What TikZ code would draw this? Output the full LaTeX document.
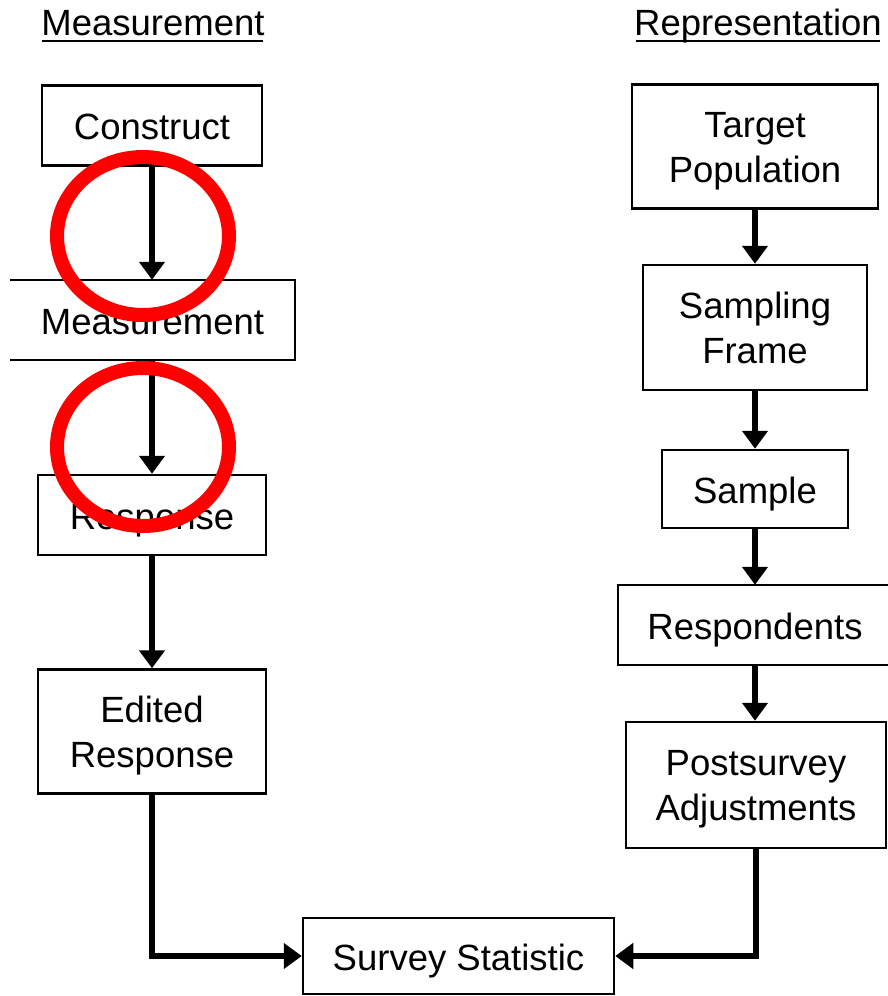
\documentclass[tikz,border=0pt]{standalone}
\usepackage{fontspec}
\setmainfont{Liberation Sans}
\usetikzlibrary{arrows.meta}
\newcommand{\mytwo}[2]{\begin{tabular}[t]{@{}c@{}}#1\\#2\end{tabular}}
\begin{document}
\begin{tikzpicture}[x=1pt,y=-1pt,
  txt/.style={inner sep=0pt, font=\fontsize{36.5}{45}\selectfont},
  box/.style={txt, draw, line width=2.5pt, text height=28pt, text depth=0pt},
  boxtwo/.style={txt, draw, line width=2.5pt, text height=26pt, text depth=45pt},
  arr/.style={line width=6pt, -{Triangle[width=25pt,length=18pt]}},
  head/.style={txt, anchor=base},
  redring/.style={red, line width=14pt}]
\useasboundingbox (0,0) rectangle (888,996);
% headings
\node[head] (hm) at (153,35) {Measurement};
\draw[line width=2pt] (42,40.5) -- (263,40.5);
\node[head] (hr) at (758,35) {Representation};
\draw[line width=2pt] (636,40.5) -- (880,40.5);
% left column
\node[box, minimum width=220pt, minimum height=80pt] (con) at (152,125.5) {Construct};
\node[txt, text height=28pt, text depth=0pt, minimum width=285pt, minimum height=80pt] (mea) at (152.5,320) {Measurement};
\draw[line width=2.5pt] (mea.north west) -- (mea.north east) -- (mea.south east) -- (mea.south west);
\node[box, minimum width=228pt, minimum height=80pt] (res) at (152,515) {Response};
\node[boxtwo, minimum width=228pt, minimum height=124pt] (edi) at (152,731.5) {\mytwo{Edited}{Response}};
% bottom
\node[box, minimum width=311pt, minimum height=76pt] (sur) at (458.5,956) {Survey Statistic};
% right column
\node[boxtwo, minimum width=246pt, minimum height=124pt] (tar) at (755,146.5) {\mytwo{Target}{Population}};
\node[boxtwo, minimum width=224pt, minimum height=125pt] (fra) at (755,327.5) {\mytwo{Sampling}{Frame}};
\node[box, minimum width=186pt, minimum height=78pt] (sam) at (755,489) {Sample};
\node[txt, text height=28pt, text depth=0pt, minimum width=270pt, minimum height=80pt] (rsp) at (755,625) {Respondents};
\draw[line width=2.5pt] (890,585) -- (618,585) -- (618,665) -- (890,665);
\node[boxtwo, minimum width=260pt, minimum height=126pt] (pos) at (756,785) {\mytwo{Postsurvey}{Adjustments}};
% connectors
\draw[arr] (con.south) -- (con.south |- mea.north);
\draw[arr] (mea.south -| con.south) -- (res.north);
\draw[arr] (res.south) -- (edi.north);
\draw[arr] (edi.south) |- (sur.west);
\draw[arr] (tar.south) -- (fra.north);
\draw[arr] (fra.south) -- (sam.north);
\draw[arr] (sam.south) -- (sam.south |- rsp.north);
\draw[arr] (sam.south |- rsp.south) -- (sam.south |- pos.north);
\draw[arr] (pos.south) |- (sur.east);
% red marks
\draw[redring] (143,236) ellipse [x radius=86, y radius=79];
\draw[redring] (143,447) ellipse [x radius=86, y radius=79];
\end{tikzpicture}
\end{document}
